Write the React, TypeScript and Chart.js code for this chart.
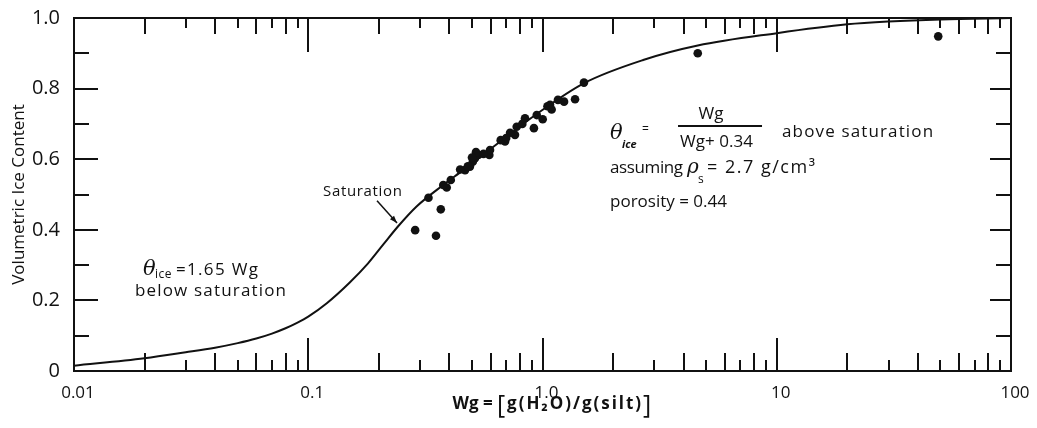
import React, { useEffect, useRef } from 'react';
import { Chart, registerables } from 'chart.js';

Chart.register(...registerables);

// ---- data ----
const X_TICKS = [0.01, 0.1, 1, 10, 100];
const X_TICK_LABELS = ['0.01', '0.1', '1.0', '10', '100'];
const Y_TICKS = [0, 0.2, 0.4, 0.6, 0.8, 1.0];
const Y_TICK_LABELS = ['0', '0.2', '0.4', '0.6', '0.8', '1.0'];

const CURVE_WG = [0.01, 0.02, 0.03, 0.04, 0.05, 0.06, 0.07, 0.08, 0.09, 0.1, 0.12, 0.15, 0.18, 0.21, 0.242, 0.29, 0.377, 0.458, 0.597, 0.945, 1.5, 2.69, 4.6, 10, 20, 30, 50, 100];
const CURVE_ICE = [0.015, 0.036, 0.053, 0.066, 0.079, 0.092, 0.106, 0.121, 0.137, 0.154, 0.192, 0.25, 0.305, 0.36, 0.41, 0.466, 0.527, 0.569, 0.628, 0.728, 0.815, 0.881, 0.922, 0.957, 0.982, 0.99, 0.996, 1.0];

const SAMPLE_WG = [1.503, 1.377, 1.236, 1.164, 1.077, 1.094, 1.002, 0.945, 0.919, 0.842, 0.776, 0.763, 0.727, 0.692, 0.663, 0.593, 0.597, 0.532, 0.515, 0.504, 0.49, 0.467, 0.445, 0.406, 0.39, 0.377, 0.326, 0.368, 0.286, 0.351, 4.6, 48.9, 0.52, 0.5, 0.82, 0.7, 1.05, 0.56, 0.48];
const SAMPLE_ICE = [0.817, 0.77, 0.763, 0.768, 0.754, 0.741, 0.713, 0.725, 0.688, 0.716, 0.692, 0.669, 0.675, 0.65, 0.654, 0.612, 0.626, 0.612, 0.603, 0.593, 0.579, 0.569, 0.571, 0.541, 0.52, 0.527, 0.491, 0.458, 0.399, 0.383, 0.9, 0.948, 0.62, 0.605, 0.7, 0.66, 0.75, 0.615, 0.58];

const Y_TITLE = 'Volumetric Ice Content';

// annotation anchors (data coordinates)
const NOTE_BELOW = { wg: 0.0197, ice: 0.272 };
const NOTE_SAT = { wg: 0.1156, ice: 0.496 };
const SAT_ARROW = { fromWg: 0.1966, fromIce: 0.482, toWg: 0.2393, toIce: 0.419 };
const NOTE_ABOVE = { wg: 1.942, ice: 0.657 };

const FONT = '"Open Sans", "DejaVu Sans", sans-serif';
const INK = '#111';

function put(ctx: CanvasRenderingContext2D, s: string, x: number, y: number, font: string, align: CanvasTextAlign = 'left', spacing = '0px') {
  ctx.font = font;
  (ctx as any).letterSpacing = spacing;
  ctx.textAlign = align;
  ctx.fillText(s, x, y);
  const w = ctx.measureText(s).width;
  (ctx as any).letterSpacing = '0px';
  return x + w;
}

// draw text starting at x, stretched by letter spacing to span `width` px
function fit(ctx: CanvasRenderingContext2D, s: string, x: number, y: number, font: string, width: number) {
  ctx.font = font;
  (ctx as any).letterSpacing = '0px';
  ctx.textAlign = 'left';
  const w = ctx.measureText(s).width;
  const n = Array.from(s).length;
  const sp = n > 1 ? (width - w) / (n - 1) : 0;
  (ctx as any).letterSpacing = sp.toFixed(2) + 'px';
  ctx.fillText(s, x, y);
  (ctx as any).letterSpacing = '0px';
  return x + width;
}

const frameTicks = {
  id: 'frameTicks',
  afterDatasetsDraw(chart: any) {
    const { ctx, chartArea, scales } = chart;
    const { left, right, top, bottom } = chartArea;
    const xs = scales.x;
    const ys = scales.y;
    ctx.save();
    ctx.strokeStyle = INK;
    ctx.lineWidth = 2;
    ctx.lineCap = 'butt';
    ctx.strokeRect(left, top, right - left, bottom - top);
    ctx.beginPath();
    for (let d = 0; d < X_TICKS.length; d++) {
      const dec = X_TICKS[d];
      for (let m = 1; m <= 9; m++) {
        if (d === X_TICKS.length - 1 && m > 1) break;
        const p = Math.round(xs.getPixelForValue(dec * m));
        const len = m === 1 ? 33 : m % 2 === 0 ? 18 : 11;
        ctx.moveTo(p, bottom);
        ctx.lineTo(p, bottom - len);
        ctx.moveTo(p, top);
        ctx.lineTo(p, top + (m === 1 ? 34 : m % 2 === 0 ? 16 : 10));
      }
    }
    for (let i = 0; i <= 10; i++) {
      const p = Math.round(ys.getPixelForValue(i / 10));
      ctx.moveTo(left, p);
      ctx.lineTo(left + (i % 2 === 0 ? 24 : 15), p);
      ctx.moveTo(right, p);
      ctx.lineTo(right - (i % 2 === 0 ? 21 : 15), p);
    }
    ctx.stroke();
    ctx.restore();
  },
};

const notes = {
  id: 'notes',
  afterDraw(chart: any) {
    const { ctx, scales, chartArea } = chart;
    const P = (wg: number, ice: number) => [scales.x.getPixelForValue(wg), scales.y.getPixelForValue(ice)];
    const F17 = '17px ' + FONT;
    ctx.save();
    ctx.fillStyle = INK;
    ctx.strokeStyle = INK;
    ctx.textBaseline = 'alphabetic';

    // below saturation
    let [x, b] = P(NOTE_BELOW.wg, NOTE_BELOW.ice);
    put(ctx, '\u03B8', x, b, 'italic 21px "DejaVu Serif"');
    put(ctx, 'ice', x + 12, b + 3, '12px ' + FONT, 'left', '0.5px');
    fit(ctx, '=1.65 Wg', x + 33, b, F17, 82);
    fit(ctx, 'below saturation', x - 8, b + 21, F17, 151);

    // Saturation label + arrow
    [x, b] = P(NOTE_SAT.wg, NOTE_SAT.ice);
    fit(ctx, 'Saturation', x, b, '15px ' + FONT, 79);
    const [ax, ay] = P(SAT_ARROW.fromWg, SAT_ARROW.fromIce);
    const [bx, by] = P(SAT_ARROW.toWg, SAT_ARROW.toIce);
    ctx.lineWidth = 1.5;
    ctx.beginPath();
    ctx.moveTo(ax, ay);
    ctx.lineTo(bx, by);
    ctx.stroke();
    const ang = Math.atan2(by - ay, bx - ax);
    ctx.beginPath();
    ctx.moveTo(bx, by);
    ctx.lineTo(bx - 8 * Math.cos(ang - 0.35), by - 8 * Math.sin(ang - 0.35));
    ctx.lineTo(bx - 8 * Math.cos(ang + 0.35), by - 8 * Math.sin(ang + 0.35));
    ctx.closePath();
    ctx.fill();

    // above saturation
    [x, b] = P(NOTE_ABOVE.wg, NOTE_ABOVE.ice);
    put(ctx, '\u03B8', x, b, 'italic 21px "DejaVu Serif"');
    put(ctx, 'ice', x + 12, b + 9, 'italic bold 11px ' + FONT);
    put(ctx, '=', x + 32, b - 6, '12px ' + FONT);
    put(ctx, 'Wg', x + 101, b - 20, F17, 'center');
    ctx.lineWidth = 2;
    ctx.beginPath();
    ctx.moveTo(x + 68, b - 13);
    ctx.lineTo(x + 152, b - 13);
    ctx.stroke();
    fit(ctx, 'Wg+ 0.34', x + 70, b + 8, F17, 73);
    fit(ctx, 'above saturation', x + 172, b - 2, F17, 151);
    fit(ctx, 'assuming', x, b + 34, F17, 73);
    put(ctx, '\u03C1', x + 77, b + 34, 'italic 20px "DejaVu Serif"');
    put(ctx, 's', x + 88, b + 44, '12px ' + FONT);
    put(ctx, '= 2.7 g/cm\u00B3', x + 97, b + 34, '18px ' + FONT, 'left', '1.5px');
    fit(ctx, 'porosity = 0.44', x, b + 68, F17, 117);

    // x-axis title
    const cx = (chartArea.left + chartArea.right) / 2;
    const tb = chartArea.bottom + 38;
    let tx = cx - 90;
    tx = put(ctx, 'Wg = ', tx, tb, 'bold 17px ' + FONT);
    put(ctx, '[', tx, tb + 4, '25px ' + FONT);
    fit(ctx, 'g(H\u2082O)/g(silt)', tx + 10, tb, 'bold 17px ' + FONT, 134);
    put(ctx, ']', tx + 146, tb + 4, '25px ' + FONT);
    ctx.restore();
  },
};

export default function App() {
  const ref = useRef<HTMLCanvasElement | null>(null);
  useEffect(() => {
    if (!ref.current) return;
    const chart = new Chart(ref.current, {
      type: 'scatter',
      data: {
        datasets: [
          {
            type: 'line',
            data: CURVE_WG.map((w, i) => ({ x: w, y: CURVE_ICE[i] })),
            borderColor: INK,
            borderWidth: 2,
            pointRadius: 0,
            fill: false,
            cubicInterpolationMode: 'monotone',
            order: 2,
          } as any,
          {
            type: 'scatter',
            data: SAMPLE_WG.map((w, i) => ({ x: w, y: SAMPLE_ICE[i] })),
            backgroundColor: INK,
            borderColor: INK,
            borderWidth: 0,
            pointRadius: 4.3,
            order: 1,
          },
        ],
      },
      options: {
        responsive: false,
        animation: false,
        layout: { padding: { top: 18, right: 26, left: 0, bottom: 0 } },
        plugins: { legend: { display: false }, tooltip: { enabled: false } },
        scales: {
          x: {
            type: 'logarithmic',
            min: 0.01,
            max: 100,
            position: 'bottom',
            afterBuildTicks: (s: any) => {
              s.ticks = X_TICKS.map((v) => ({ value: v }));
            },
            afterFit: (s: any) => {
              s.height = 57;
            },
            grid: { display: false },
            border: { display: false },
            ticks: {
              autoSkip: false,
              maxRotation: 0,
              padding: 4,
              labelOffset: 4,
              color: INK,
              font: { family: FONT, size: 17 },
              callback: (_v: any, i: number) => X_TICK_LABELS[i],
            },
          },
          y: {
            min: 0,
            max: 1,
            afterBuildTicks: (s: any) => {
              s.ticks = Y_TICKS.map((v) => ({ value: v }));
            },
            afterFit: (s: any) => {
              s.width = 74;
            },
            grid: { display: false },
            border: { display: false },
            ticks: {
              padding: 6,
              color: INK,
              font: { family: FONT, size: 20 },
              callback: (_v: any, i: number) => Y_TICK_LABELS[i],
            },
            title: {
              display: true,
              text: Y_TITLE,
              color: INK,
              font: { family: FONT, size: 17 },
              padding: { top: 9, bottom: 0 },
            },
          },
        },
      } as any,
      plugins: [frameTicks, notes],
    });
    return () => chart.destroy();
  }, []);
  return (
    <div style={{ position: 'fixed', left: 0, top: 0, width: 1037, height: 428, background: '#fff' }}>
      <canvas ref={ref} width={1037} height={428} style={{ display: 'block' }} />
    </div>
  );
}
